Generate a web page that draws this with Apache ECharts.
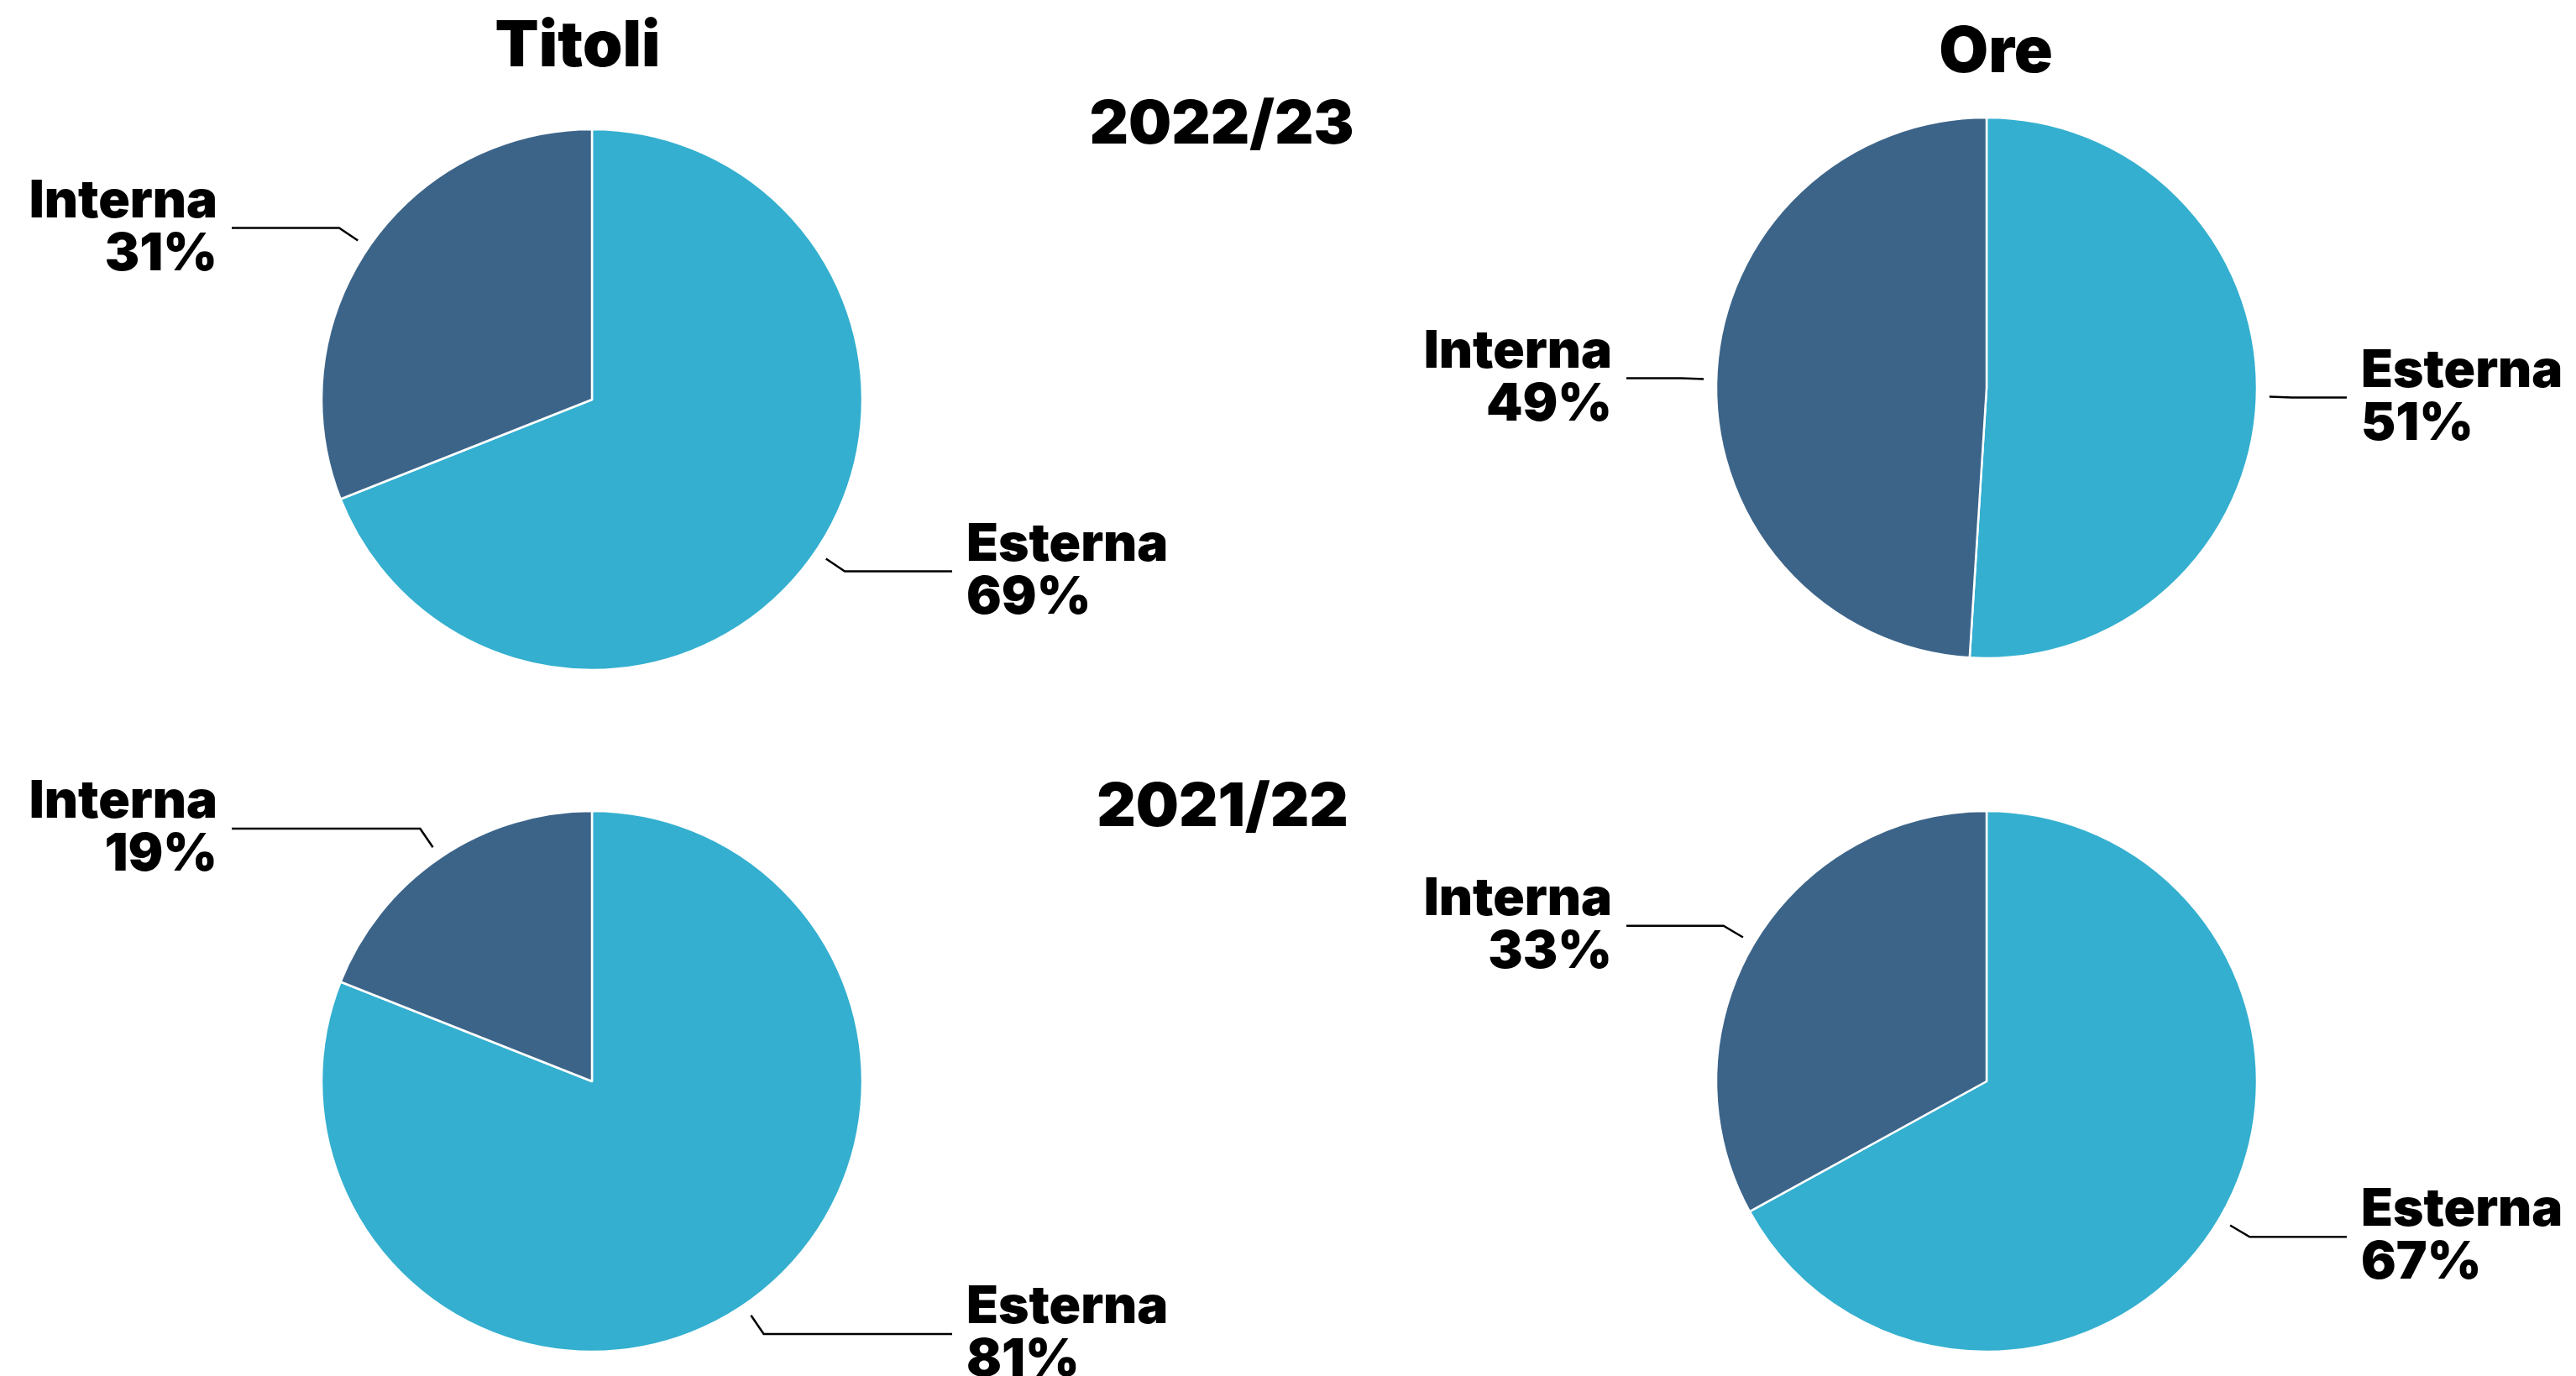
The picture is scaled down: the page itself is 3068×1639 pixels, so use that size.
<!DOCTYPE html>
<html>
<head>
<meta charset="utf-8">
<style>
  html, body { margin: 0; padding: 0; background: #fff; }
  #main { width: 3068px; height: 1639px; }
</style>
<script src="https://cdn.jsdelivr.net/npm/echarts@6/dist/echarts.min.js"></script>
</head>
<body>
<div id="main"></div>
<script>
  // dati (percentuali) — ordine: Esterna, Interna
  var categories = ['Esterna', 'Interna']
  var titoli2223 = [69, 31]
  var ore2223 = [51, 49]
  var titoli2122 = [81, 19]
  var ore2122 = [67, 33]

  var columnTitles = ['Titoli', 'Ore']
  var yearLabels = ['2022/23', '2021/22']

  var FONT = 'Inter, Lato, "Open Sans", sans-serif'
  var colors = ['#34afcf', '#3c6489']
  var R = 322
  var LABEL_R = 337     // le linee partono un po' fuori dalla torta
  var LEN1 = 27
  var LINE_END = 429    // fine della linea orizzontale dal centro

  function makeData (values) {
    let total = values.reduce((a, b) => a + b, 0)
    let acc = 0
    return values.map((v, i) => {
      let mid = (acc + v / 2) / total * Math.PI * 2
      acc += v
      let dx = Math.abs(Math.sin(mid)) * (LABEL_R + LEN1)
      return {
        name: categories[i],
        value: v,
        itemStyle: { color: colors[i] },
        labelLine: { length: LEN1, length2: Math.max(LINE_END - dx, 10) }
      }
    })
  }

  function pieSeries (values, center) {
    return [
      {
        type: 'pie',
        center: center,
        radius: R,
        startAngle: 90,
        clockwise: true,
        silent: true,
        animation: false,
        label: { show: false },
        labelLine: { show: false },
        itemStyle: { borderColor: '#fff', borderWidth: 2.5 },
        data: makeData(values)
      },
      {
        // solo etichette + linee
        type: 'pie',
        center: center,
        radius: LABEL_R,
        startAngle: 90,
        clockwise: true,
        silent: true,
        animation: false,
        avoidLabelOverlap: false,
        itemStyle: { color: 'transparent', borderWidth: 0 },
        label: {
          show: true,
          formatter: '{b}\n{c}%',
          fontFamily: FONT,
          fontWeight: 900,
          fontSize: 62,
          lineHeight: 63,
          color: '#000',
          distanceToLabelLine: 17
        },
        labelLine: {
          show: true,
          lineStyle: { color: '#000', width: 2.5 }
        },
        data: makeData(values).map(d => Object.assign({}, d, { itemStyle: { color: 'transparent' } }))
      }
    ]
  }

  function txt (text, x, y, size) {
    return {
      type: 'text',
      x: x,
      y: y,
      style: {
        text: text,
        fontFamily: FONT,
        fontWeight: 900,
        fontSize: size,
        fill: '#000',
        textAlign: 'center',
        textVerticalAlign: 'middle'
      }
    }
  }

  let myChart = echarts.init(document.getElementById('main'))
  let option = {
    backgroundColor: '#fff',
    animation: false,
    graphic: [
      txt(columnTitles[0], 688, 56, 76),
      txt(columnTitles[1], 2377, 63, 76),
      txt(yearLabels[0], 1455, 149, 72),
      txt(yearLabels[1], 1456, 962, 72)
    ],
    series: [].concat(
      pieSeries(titoli2223, [705, 476]),
      pieSeries(ore2223, [2366, 462]),
      pieSeries(titoli2122, [705, 1288]),
      pieSeries(ore2122, [2366, 1288])
    )
  }
  myChart.setOption(option)
</script>
</body>
</html>
